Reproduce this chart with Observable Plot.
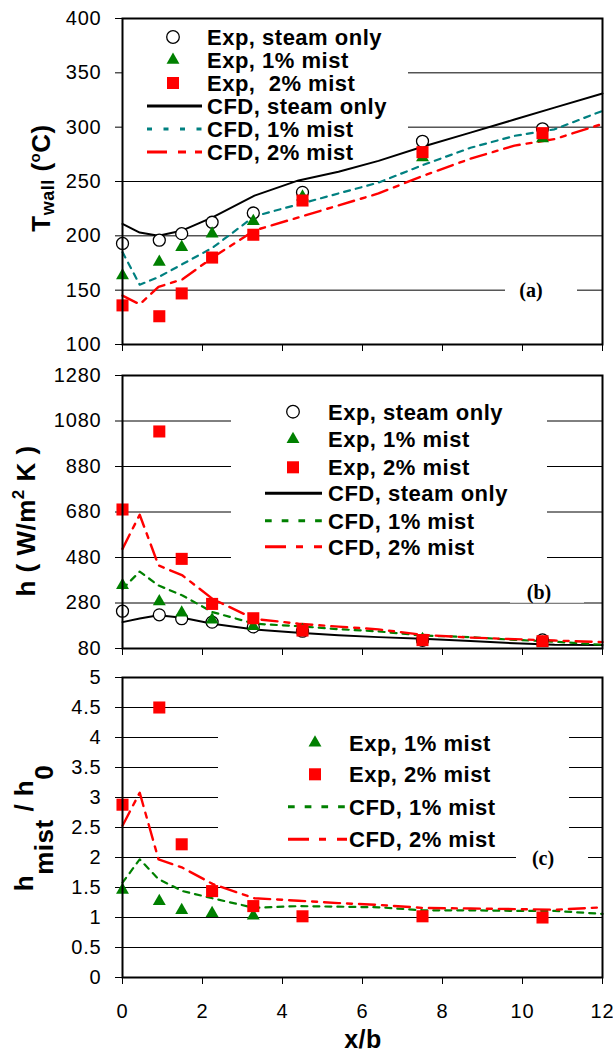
<!DOCTYPE html>
<html>
<head>
<meta charset="utf-8">
<script src="https://cdn.jsdelivr.net/npm/d3@7"></script>
<script src="https://cdn.jsdelivr.net/npm/@observablehq/plot@0.6"></script>
<style>
  html, body { margin: 0; padding: 0; background: #fff; }
  #wrap { position: relative; width: 613px; height: 1061px; overflow: hidden; }
  #wrap svg { position: absolute; left: 0; }
</style>
</head>
<body>
<div id="wrap"></div>
<script>
// ---------------- data ----------------
const xTicks = [0, 2, 4, 6, 8, 10, 12];
const expX = [0, 0.92, 1.48, 2.24, 3.27, 4.5, 7.5, 10.5];
const cfdX = [0, 0.43, 0.9, 1.5, 2.25, 3.3, 4.4, 5.4, 6.4, 7.5, 8.7, 9.8, 10.8, 12];

// (a) wall temperature, degC
const twallTicks = [100, 150, 200, 250, 300, 350, 400];
const twallExpSteam = [193, 196, 202, 212.5, 221, 240, 287, 298.5];
const twallExp1 = [163.5, 176, 189.5, 202, 213.5, 236, 272, 289.5];
const twallExp2 = [136, 126, 147, 180, 201, 232.5, 277, 294.5];
const twallCfdSteam = [211, 203, 200, 205, 217, 237, 251, 259, 269, 282, 295, 307, 318, 331];
const twallCfd1 = [185, 155, 162, 174, 189, 218, 229, 239, 249, 265, 281, 292, 298, 315];
const twallCfd2 = [145, 137, 153, 160, 180, 205, 217, 228, 239, 255, 271, 283, 289, 303];

// (b) heat transfer coefficient, W/m2K
const hTicks = [80, 280, 480, 680, 880, 1080, 1280];
const hExpSteam = [244, 228, 211, 196, 175, 156, 116, 118];
const hExp1 = [358, 287, 237, 206, 178, 160, 121, 106];
const hExp2 = [691, 1034, 474, 276, 213, 159, 117, 112];
const hCfdSteam = [196, 212, 226, 215, 189, 164, 149, 138, 130, 123, 113, 103, 97, 95];
const hCfd1 = [342, 418, 357, 313, 240, 189, 178, 165, 155, 137, 130, 118, 110, 96];
const hCfd2 = [518, 668, 445, 401, 298, 210, 189, 176, 164, 140, 128, 121, 115, 108];

// (c) enhancement ratio h_mist / h_0
const ratioTicks = [0, 0.5, 1, 1.5, 2, 2.5, 3, 3.5, 4, 4.5, 5];
const ratioExp1 = [1.46, 1.27, 1.12, 1.07, 1.03];
const ratioExp2 = [2.88, 4.5, 2.22, 1.44, 1.19, 1.02, 1.02, 1.0];
const ratioCfd1 = [1.58, 1.97, 1.64, 1.44, 1.32, 1.16, 1.19, 1.18, 1.17, 1.12, 1.12, 1.11, 1.11, 1.06];
const ratioCfd2 = [2.53, 3.08, 1.97, 1.83, 1.56, 1.32, 1.28, 1.24, 1.21, 1.16, 1.15, 1.14, 1.13, 1.17];

// text
const legendA = ["Exp, steam only", "Exp, 1% mist", "Exp,  2% mist", "CFD, steam only", "CFD, 1% mist", "CFD, 2% mist"];
const legendB = ["Exp, steam only", "Exp, 1% mist", "Exp, 2% mist", "CFD, steam only", "CFD, 1% mist", "CFD, 2% mist"];
const legendC = ["Exp, 1% mist", "Exp, 2% mist", "CFD, 1% mist", "CFD, 2% mist"];
const panelTags = ["(a)", "(b)", "(c)"];
const xLabel = "x/b";

// ---------------- styling ----------------
const GREEN = "#008000", RED = "#ff0000", TEAL = "#008080", BLACK = "#000";
const SANS = "Arial, 'Liberation Sans', Helvetica, sans-serif";
const SERIF = "'Times New Roman', 'Liberation Serif', serif";
const DASH_DOT = "16,7,5,7";
const DOTS = "6,6";

function pts(xs, ys) { return ys.map((y, i) => ({x: xs[i], y})); }

function panel(o) {
  const marks = [
    Plot.ruleY(o.yTicks.slice(1, -1), {stroke: BLACK, strokeWidth: 1}),
    Plot.axisY({ticks: o.yTicks, tickSize: 7, tickPadding: 14, tickFormat: d => String(d), label: null}),
    Plot.axisX({ticks: xTicks, tickSize: 7, tickPadding: 19, tickFormat: o.xLabels ? d => String(d) : () => "", label: null}),
  ];
  for (const l of o.lines) {
    marks.push(Plot.line(pts(cfdX, l.values), {x: "x", y: "y", stroke: l.stroke, strokeWidth: l.width, strokeDasharray: l.dash}));
  }
  if (o.expSteam) marks.push(Plot.dot(pts(expX, o.expSteam), {x: "x", y: "y", r: 6, fill: "white", stroke: BLACK, strokeWidth: 1.3}));
  if (o.exp1) marks.push(Plot.dot(pts(expX, o.exp1), {x: "x", y: "y", symbol: "triangle", r: 4.8, fill: GREEN}));
  if (o.exp2) marks.push(Plot.dot(pts(expX, o.exp2), {x: "x", y: "y", symbol: "square", r: 6.8, fill: RED}));
  marks.push(Plot.frame({stroke: BLACK, strokeWidth: 2}));

  const svg = Plot.plot({
    width: 613, height: o.height,
    marginLeft: 122, marginRight: 11, marginTop: o.mt, marginBottom: o.mb,
    style: {fontFamily: SANS, fontSize: "20px", letterSpacing: "0.8px", color: BLACK, background: "transparent", overflow: "visible"},
    x: {domain: [0, 12]},
    y: {domain: [o.yTicks[0], o.yTicks[o.yTicks.length - 1]]},
    marks
  });
  svg.style.top = o.top + "px";
  document.getElementById("wrap").appendChild(svg);
  return d3.select(svg);
}

// legend drawn just above the gridlines, below the data marks
function legend(s, box, rows, items) {
  const svg = s.node();
  const rule = svg.querySelector('[aria-label="rule"]');
  const gNode = document.createElementNS("http://www.w3.org/2000/svg", "g");
  if (rule) svg.insertBefore(gNode, rule.nextSibling); else svg.appendChild(gNode);
  const g = d3.select(gNode).attr("text-anchor", "start");
  g.append("rect").attr("x", box[0]).attr("y", box[1]).attr("width", box[2]).attr("height", box[3]).attr("fill", "white");
  items.forEach((it, i) => {
    const y = rows.y[i];
    if (it.kind === "circle") {
      g.append("circle").attr("cx", rows.mx).attr("cy", y).attr("r", 6.3).attr("fill", "white").attr("stroke", BLACK).attr("stroke-width", 1.3);
    } else if (it.kind === "triangle") {
      g.append("path").attr("transform", `translate(${rows.mx},${y})`).attr("d", d3.symbol(d3.symbolTriangle, Math.PI * 4.8 * 4.8)()).attr("fill", GREEN);
    } else if (it.kind === "square") {
      g.append("path").attr("transform", `translate(${rows.mx},${y})`).attr("d", d3.symbol(d3.symbolSquare, Math.PI * 6.8 * 6.8)()).attr("fill", RED);
    } else {
      g.append("line").attr("x1", rows.lx1).attr("x2", rows.lx2).attr("y1", y).attr("y2", y)
        .attr("stroke", it.stroke).attr("stroke-width", 3).attr("stroke-dasharray", it.dash || null);
    }
    g.append("text").attr("x", rows.tx).attr("y", y).attr("dy", "0.36em").attr("text-anchor", "start")
      .style("font-family", SANS).style("font-weight", "bold").style("font-size", "22px")
      .style("letter-spacing", "0.5px").style("white-space", "pre").attr("fill", BLACK).text(it.label);
  });
}

function tag(s, cx, cy, x1, x2, label) {
  s.append("rect").attr("x", x1).attr("y", cy - 11).attr("width", x2 - x1).attr("height", 22).attr("fill", "white");
  s.append("text").attr("x", cx).attr("y", cy).attr("dy", "0.35em").attr("text-anchor", "middle")
    .style("font-family", SERIF).style("font-weight", "bold").style("font-size", "20px").style("letter-spacing", "0px")
    .attr("fill", BLACK).text(label);
}

function ylabel(s, x, y) {
  return s.append("text").attr("transform", `translate(${x},${y}) rotate(-90)`).attr("text-anchor", "middle")
    .style("font-family", SANS).style("font-weight", "bold").style("font-size", "26px").style("letter-spacing", "0.5px")
    .style("white-space", "pre").attr("fill", BLACK);
}

// ---------------- panel (a) ----------------
const sa = panel({
  top: 0, height: 355, mt: 18, mb: 11, yTicks: twallTicks, xLabels: false,
  lines: [
    {values: twallCfdSteam, stroke: BLACK, width: 2},
    {values: twallCfd1, stroke: TEAL, width: 2.2, dash: DOTS},
    {values: twallCfd2, stroke: RED, width: 2.4, dash: DASH_DOT},
  ],
  expSteam: twallExpSteam, exp1: twallExp1, exp2: twallExp2
});
legend(sa, [123, 19, 285, 143], {mx: 173, lx1: 147, lx2: 202, tx: 207, y: [37, 60, 83, 106, 129, 152]}, [
  {kind: "circle", label: legendA[0]}, {kind: "triangle", label: legendA[1]}, {kind: "square", label: legendA[2]},
  {kind: "line", stroke: BLACK, label: legendA[3]}, {kind: "line", stroke: TEAL, dash: "5,11.5", label: legendA[4]},
  {kind: "line", stroke: RED, dash: "20,11,8,9", label: legendA[5]}
]);
tag(sa, 531, 290, 505, 577, panelTags[0]);
{
  const t = ylabel(sa, 50, 178);
  t.append("tspan").text("T");
  t.append("tspan").attr("dy", 4).style("font-size", "18px").text("wall");
  t.append("tspan").attr("dy", -4).text(" (");
  t.append("tspan").attr("dy", -10).style("font-size", "15px").text("o");
  t.append("tspan").attr("dy", 10).text("C)");
}

// ---------------- panel (b) ----------------
const sb = panel({
  top: 355, height: 305, mt: 20, mb: 12, yTicks: hTicks, xLabels: false,
  lines: [
    {values: hCfdSteam, stroke: BLACK, width: 2},
    {values: hCfd1, stroke: GREEN, width: 2.2, dash: DOTS},
    {values: hCfd2, stroke: RED, width: 2.4, dash: DASH_DOT},
  ],
  expSteam: hExpSteam, exp1: hExp1, exp2: hExp2
});
legend(sb, [231, 30, 316, 190], {mx: 293, lx1: 265, lx2: 322, tx: 328, y: [56.7, 84.3, 112.3, 138.3, 165.7, 191.7]}, [
  {kind: "circle", label: legendB[0]}, {kind: "triangle", label: legendB[1]}, {kind: "square", label: legendB[2]},
  {kind: "line", stroke: BLACK, label: legendB[3]}, {kind: "line", stroke: GREEN, dash: "6.7,10", label: legendB[4]},
  {kind: "line", stroke: RED, dash: "21,10,7,11", label: legendB[5]}
]);
tag(sb, 539, 236.7, 510, 584, panelTags[1]);
{
  const t = ylabel(sb, 35, 166);
  t.append("tspan").text("h ( W/m");
  t.append("tspan").attr("dy", -11).style("font-size", "17px").text("2");
  t.append("tspan").attr("dy", 11).text(" K )");
}

// ---------------- panel (c) ----------------
const sc = panel({
  top: 660, height: 401, mt: 17, mb: 84, yTicks: ratioTicks, xLabels: true,
  lines: [
    {values: ratioCfd1, stroke: GREEN, width: 2.2, dash: DOTS},
    {values: ratioCfd2, stroke: RED, width: 2.4, dash: DASH_DOT},
  ],
  exp1: ratioExp1, exp2: ratioExp2
});
legend(sc, [218, 58, 351, 134], {mx: 315, lx1: 288, lx2: 347, tx: 349, y: [82.7, 114.3, 146.7, 179.3]}, [
  {kind: "triangle", label: legendC[0]}, {kind: "square", label: legendC[1]},
  {kind: "line", stroke: GREEN, dash: "6.7,10", label: legendC[2]},
  {kind: "line", stroke: RED, dash: "21,10,7,11", label: legendC[3]}
]);
tag(sc, 543, 198, 516, 588, panelTags[2]);
{
  const t = ylabel(sc, 33, 168);
  t.append("tspan").text("h");
  t.append("tspan").attr("dy", 20).text("mist");
  t.append("tspan").attr("dy", -20).text(" / h");
  t.append("tspan").attr("dy", 20).text("0");
}
sc.append("text").attr("x", 363).attr("y", 388).attr("text-anchor", "middle")
  .style("font-family", SANS).style("font-weight", "bold").style("font-size", "25px").style("letter-spacing", "0.5px")
  .attr("fill", BLACK).text(xLabel);
</script>
</body>
</html>
